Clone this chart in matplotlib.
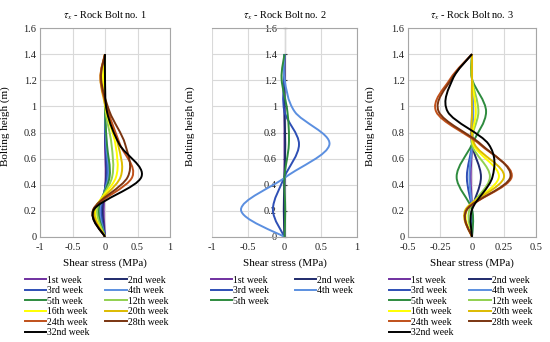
import matplotlib
matplotlib.use("Agg")
import matplotlib.pyplot as plt
import numpy as np
from matplotlib.path import Path
from matplotlib.patches import PathPatch
from matplotlib.lines import Line2D

plt.rcParams.update({'font.family': 'Liberation Serif',
                     'mathtext.fontset': 'stix',
                     'axes.unicode_minus': False,
                     'font.size': 7.5})

# gauge heights along the bolt (m)
heights = [0, 0.21, 0.46, 0.71, 0.96, 1.21, 1.4]

weeks = ["1st week", "2nd week", "3rd week", "4th week", "5th week", "12th week",
         "16th week", "20th week", "24th week", "28th week", "32nd week"]
colors = ["#7030A0", "#1F2A6B", "#2E4FB5", "#5B8FE0", "#2E8B3E", "#92D050",
          "#FFFF00", "#DDBB00", "#C0501A", "#7A3410", "#000000"]

# shear stress (MPa) for each week, rock bolt no. 1
bolt1 = [
    [0, -0.02, 0.01, 0.00, 0, 0, 0],
    [0, -0.04, 0.02, 0.01, 0, 0, 0],
    [0, -0.06, 0.03, 0.01, 0, 0, 0],
    [0, -0.08, 0.05, 0.02, 0, 0, 0],
    [0, -0.10, 0.07, 0.03, 0, 0, 0],
    [0, -0.12, 0.11, 0.10, 0.01, -0.01, 0],
    [0, -0.15, 0.17, 0.16, 0.02, -0.03, 0],
    [0, -0.16, 0.24, 0.20, 0.03, -0.07, 0],
    [0, -0.18, 0.42, 0.23, 0.05, -0.07, 0],
    [0, -0.18, 0.35, 0.31, 0.07, -0.06, 0],
    [0, -0.17, 0.56, 0.22, 0.03, 0, 0],
]

# rock bolt no. 2 (only first five weeks)
bolt2 = [
    [0, 0, 0, 0, 0, 0, 0],
    [0, -0.01, 0, 0.01, 0, 0, 0],
    [0, -0.16, 0.00, 0.20, 0.00, -0.01, 0],
    [0, -0.60, 0.02, 0.62, 0.14, 0, 0],
    [0, 0.01, 0, 0.06, 0.04, -0.04, 0],
]

# rock bolt no. 3
bolt3 = [
    [0, 0, -0.01, 0, 0, 0, 0],
    [0, 0, 0.07, 0, 0, 0, 0],
    [0, 0, -0.04, 0, 0, 0, 0],
    [0, 0, -0.02, 0, 0.01, 0, 0],
    [0, 0, -0.12, 0, 0.11, 0, 0],
    [0, -0.02, 0.14, 0, 0.05, 0, 0],
    [0, -0.04, 0.21, 0.01, 0.03, 0, 0],
    [0, -0.05, 0.25, 0.02, 0.0, 0, 0],
    [0, -0.04, 0.31, 0.06, -0.28, -0.17, 0],
    [0, -0.04, 0.30, 0.07, -0.26, -0.16, 0],
    [0, 0.0, 0.16, 0.13, -0.19, -0.15, 0],
]


def smooth(xs, ys):
    # excel style smoothed line (catmull-rom as bezier)
    pts = np.column_stack([xs, ys])
    p = np.vstack([pts[0], pts, pts[-1]])
    verts = [pts[0]]
    codes = [Path.MOVETO]
    for i in range(1, len(p) - 2):
        c1 = p[i] + (p[i + 1] - p[i - 1]) / 6
        c2 = p[i + 1] - (p[i + 2] - p[i]) / 6
        verts += [c1, c2, p[i + 1]]
        codes += [Path.CURVE4] * 3
    return Path(verts, codes)


W, H = 550, 342
fig = plt.figure(figsize=(W / 100, H / 100), dpi=100)

panels = [
    dict(data=bolt1, n=11, left=40, width=130, xlim=1.0, xt=[-1, -0.5, 0, 0.5, 1],
         ylab=-0.23, leg=20, title="1", cs=1.6),
    dict(data=bolt2, n=5, left=212, width=145, xlim=1.0, xt=[-1, -0.5, 0, 0.5, 1],
         ylab=-0.12, leg=206, title="2", cs=2.6),
    dict(data=bolt3, n=11, left=408, width=128, xlim=0.5, xt=[-0.5, -0.25, 0, 0.25, 0.5],
         ylab=-0.26, leg=384, title="3", cs=1.6),
]

top, bottom = 28, 237
for p in panels:
    ax = fig.add_axes([p['left'] / W, 1 - bottom / H, p['width'] / W, (bottom - top) / H])
    ax.set_xlim(-p['xlim'], p['xlim'])
    ax.set_ylim(0, 1.6)
    ax.set_xticks(p['xt'])
    ax.set_yticks(np.arange(0, 1.61, 0.2))
    ax.xaxis.set_major_formatter(matplotlib.ticker.FormatStrFormatter('%g'))
    ax.yaxis.set_major_formatter(matplotlib.ticker.FormatStrFormatter('%g'))
    ax.grid(True, color='#D9D9D9', linewidth=0.8)
    ax.set_axisbelow(True)
    for s in ax.spines.values():
        s.set_color('#A6A6A6')
        s.set_linewidth(0.8)
    ax.tick_params(length=0, labelsize=7.5, colors='#222222')
    ax.tick_params(axis='x', pad=4)
    ax.tick_params(axis='y', pad=2.5)
    if p['title'] == "2":
        ax.spines['left'].set_position(('data', 0))
        ax.spines['left'].set_color('#404040')
        ax.tick_params(axis='y', length=3, direction='inout', pad=4, color='#404040')
        ax.spines['left'].set_zorder(0.5)

    handles = []
    for vals, c, lab in zip(p['data'], colors[:p['n']], weeks[:p['n']]):
        ax.add_patch(PathPatch(smooth(vals, heights), facecolor='none', edgecolor=c, lw=1.4))
        handles.append(Line2D([], [], color=c, lw=1.4, label=lab))

    ax.set_title(r"$\tau_x$ - Rock Bolt no. " + p['title'], fontsize=7.5, pad=7)
    ax.set_xlabel("Shear stress (MPa)", fontsize=8)
    ax.xaxis.set_label_coords(0.5, -0.1)
    ax.set_ylabel("Bolting heigh (m)", fontsize=8)
    ax.yaxis.set_label_coords(p['ylab'], 0.53)

    order = handles[0::2] + handles[1::2]
    fig.legend(handles=order, loc='upper left', bbox_to_anchor=(p['leg'] / W, 1 - 271 / H),
               ncol=2, frameon=False, fontsize=7, borderpad=0, handlelength=2.2,
               handletextpad=0.1, labelspacing=0.15, columnspacing=p['cs'])

fig.savefig("out.png", dpi=100)
